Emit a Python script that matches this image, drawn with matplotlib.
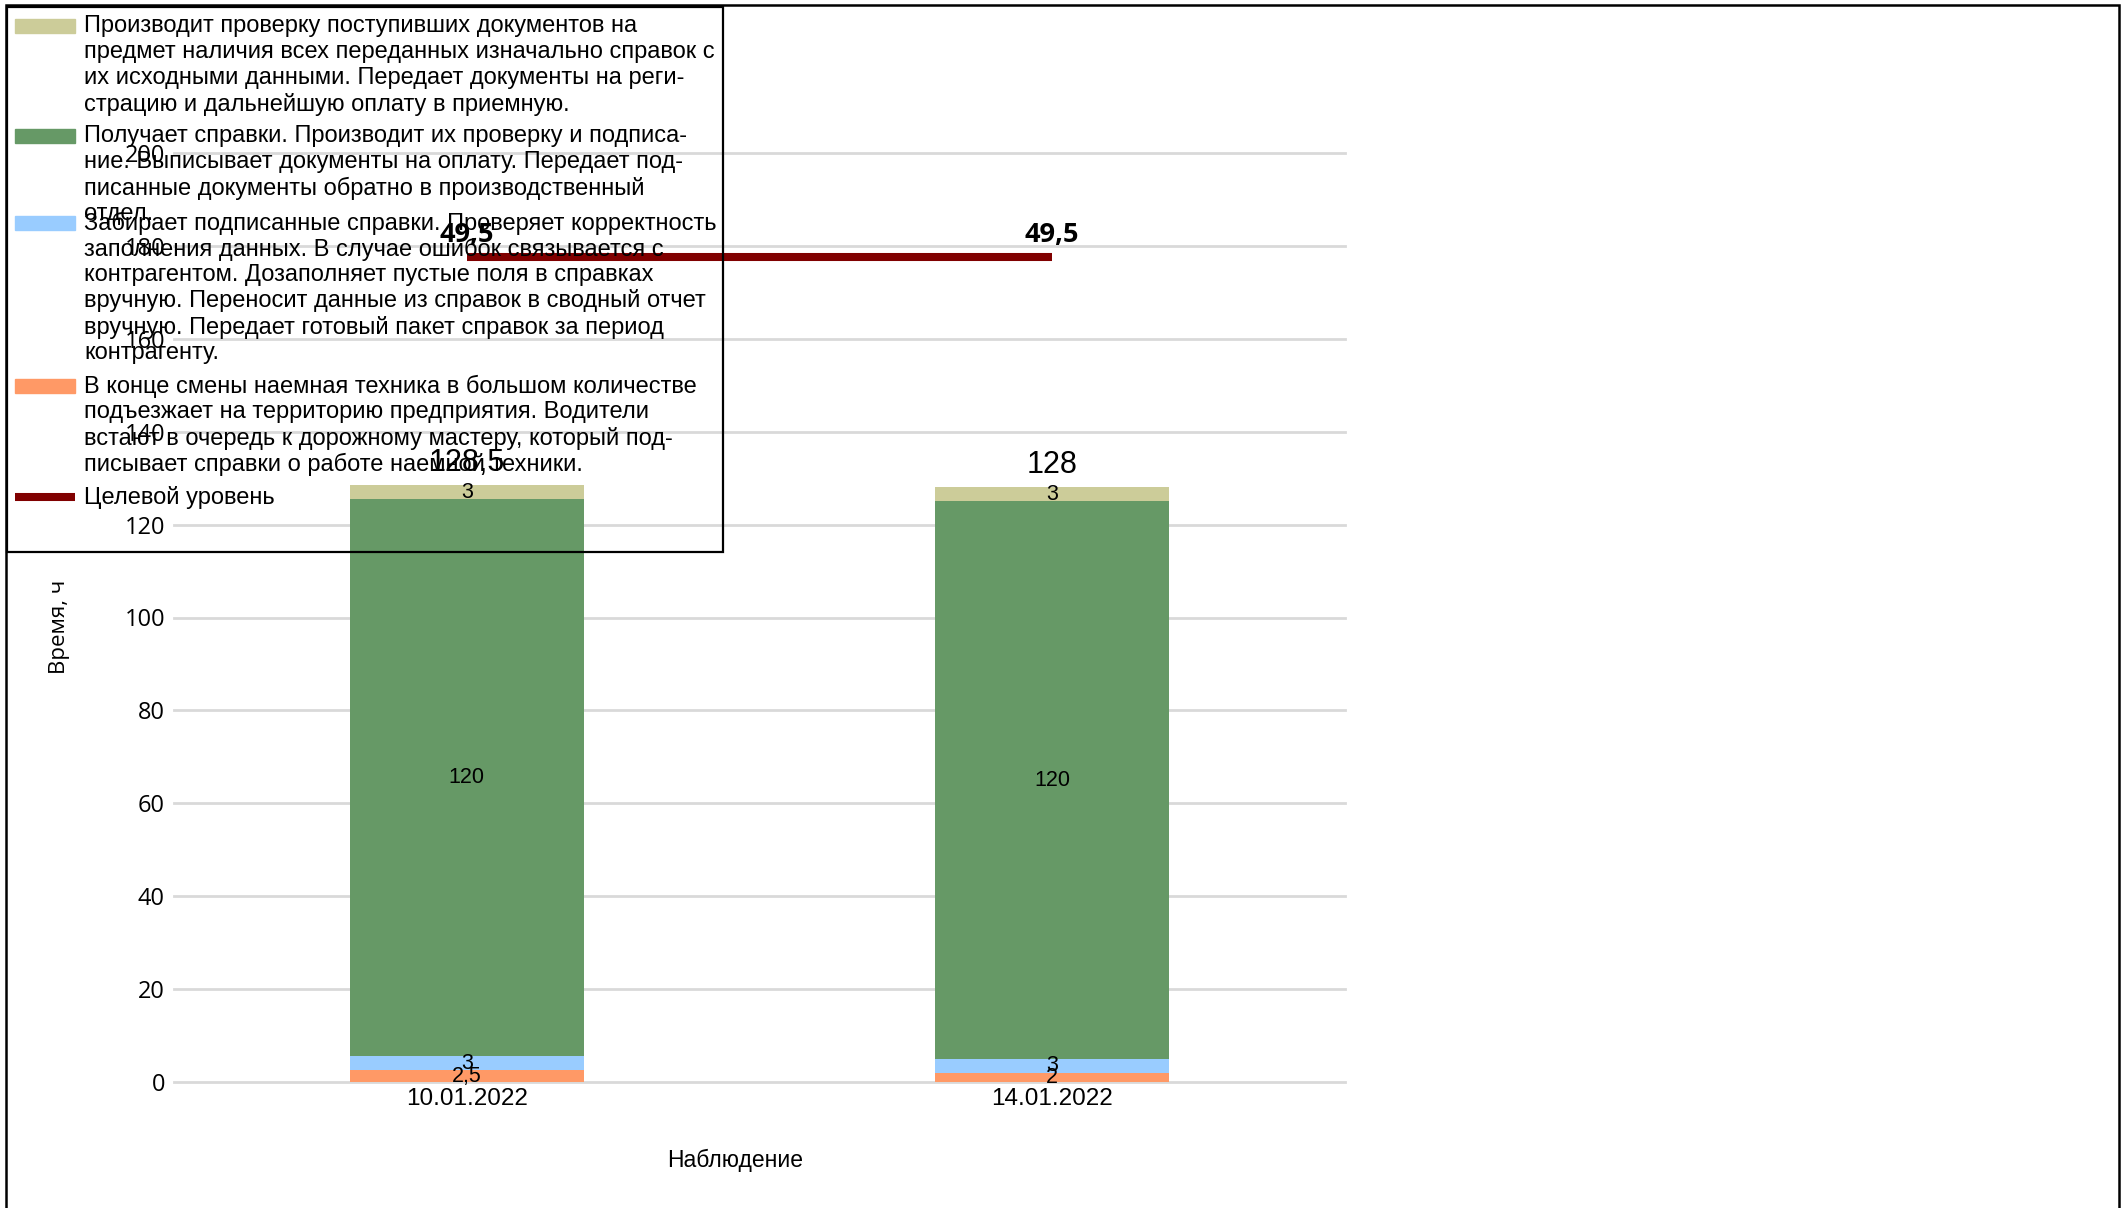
import matplotlib
matplotlib.use("Agg")
import matplotlib.pyplot as plt
from matplotlib.patches import Rectangle
from matplotlib.lines import Line2D
import numpy as np

# --- data ---
dates = ["10.01.2022", "14.01.2022"]
vehicles = [2.5, 2]      # orange, bottom
fill_in = [3, 3]         # blue
signing = [120, 120]     # green
checking = [3, 3]        # khaki, top
target = [49.5, 49.5]    # target level (secondary axis)

names = [
    "Производит проверку поступивших документов на\n"
    "предмет наличия всех переданных изначально справок с\n"
    "их исходными данными. Передает документы на реги-\n"
    "страцию и дальнейшую оплату в приемную.",
    "Получает справки. Производит их проверку и подписа-\n"
    "ние. Выписывает документы на оплату. Передает под-\n"
    "писанные документы обратно в производственный\n"
    "отдел.",
    "Забирает подписанные справки. Проверяет корректность\n"
    "заполнения данных. В случае ошибок связывается с\n"
    "контрагентом. Дозаполняет пустые поля в справках\n"
    "вручную. Переносит данные из справок в сводный отчет\n"
    "вручную. Передает готовый пакет справок за период\n"
    "контрагенту.",
    "В конце смены наемная техника в большом количестве\n"
    "подъезжает на территорию предприятия. Водители\n"
    "встают в очередь к дорожному мастеру, который под-\n"
    "писывает справки о работе наемной техники.",
    "Целевой уровень",
]

c_khaki = "#CCCC99"
c_green = "#669966"
c_blue = "#99CCFF"
c_orange = "#FF9966"
c_target = "#800000"

W, H = 2124, 1208
NARROW = ["Liberation Sans", "DejaVu Sans"]
SEGOE = ["Open Sans", "DejaVu Sans"]


def fx(x):
    return x / W


def fy(y):
    return 1 - y / H


def fmt(v):
    return f"{v:g}".replace(".", ",")


fig = plt.figure(figsize=(W / 100, H / 100), dpi=100)
fig.patch.set_facecolor("white")

ax = fig.add_axes([fx(174), fy(1082), 1171 / W, (1082 - 153) / H])
x = np.arange(len(dates))
w = 0.4

b0 = np.zeros(len(dates))
series = [(vehicles, c_orange), (fill_in, c_blue), (signing, c_green), (checking, c_khaki)]
for vals, col in series:
    bars = ax.bar(x, vals, w, bottom=b0, color=col, zorder=2)
    ax.bar_label(bars, labels=[fmt(v) for v in vals], label_type="center",
                 fontsize=15.5, family=NARROW, color="black")
    b0 = b0 + np.array(vals)

for xi, tot in zip(x, b0):
    ax.annotate(fmt(tot), (xi, tot), xytext=(0, 18.5), textcoords="offset points",
                ha="center", va="center_baseline", fontsize=22, family=NARROW)

ax.set_xlim(-0.5, 1.5)
ax.set_ylim(0, 200)
ax.set_yticks(np.arange(0, 201, 20))
ax.set_xticks(x, dates)
ax.yaxis.grid(True, color="#D9D9D9", lw=2)
for gl in ax.yaxis.get_gridlines():
    gl.set_clip_on(False)
ax.set_axisbelow(True)
for s in ax.spines.values():
    s.set_visible(False)
ax.tick_params(axis="y", length=0, pad=6.5, labelsize=17)
ax.tick_params(axis="x", length=0, pad=4, labelsize=17.5)
for t in ax.get_yticklabels():
    t.set_family(SEGOE)
for t in ax.get_xticklabels():
    t.set_family(NARROW)

# target level on hidden secondary axis
ax2 = ax.twinx()
ax2.set_ylim(0, 55.75)
ax2.plot(x, target, color=c_target, lw=5.8, solid_capstyle="butt")
for xi, v in zip(x, target):
    ax2.annotate(fmt(v), (xi, v), xytext=(0, 18), textcoords="offset points",
                 ha="center", va="center_baseline", fontsize=19.5, fontweight="bold",
                 family=SEGOE)
ax2.set_yticks([])
for s in ax2.spines.values():
    s.set_visible(False)

fig.text(fx(60), fy(627), "Время, ч", rotation=90, ha="center", va="center",
         fontsize=16, family=SEGOE)
fig.text(fx(735), fy(1160), "Наблюдение", ha="center", va="center",
         fontsize=16.5, family=NARROW)

# legend drawn by hand (Excel squeezes the entries)
first_line = [26, 136, 223, 386, 497]
colors = [c_khaki, c_green, c_blue, c_orange, None]
for name, y0, col in zip(names, first_line, colors):
    if col is None:
        fig.add_artist(Line2D([fx(15), fx(75)], [fy(y0), fy(y0)], transform=fig.transFigure,
                              color=c_target, lw=5.8, solid_capstyle="butt"))
    else:
        fig.add_artist(Rectangle((fx(15), fy(y0 + 7)), 60 / W, 14 / H,
                                 transform=fig.transFigure, color=col))
    for i, line in enumerate(name.split("\n")):
        fig.text(fx(84), fy(y0 + 26 * i), line, ha="left", va="center",
                 fontsize=17, family=NARROW)

fig.add_artist(Rectangle((fx(7), fy(552)), 716 / W, 545 / H, transform=fig.transFigure,
                         fill=False, ec="black", lw=1.6))
fig.add_artist(Rectangle((fx(6), fy(1230)), 2113 / W, 1225 / H, transform=fig.transFigure,
                         fill=False, ec="black", lw=1.8))

fig.savefig("out.png", dpi=100)
